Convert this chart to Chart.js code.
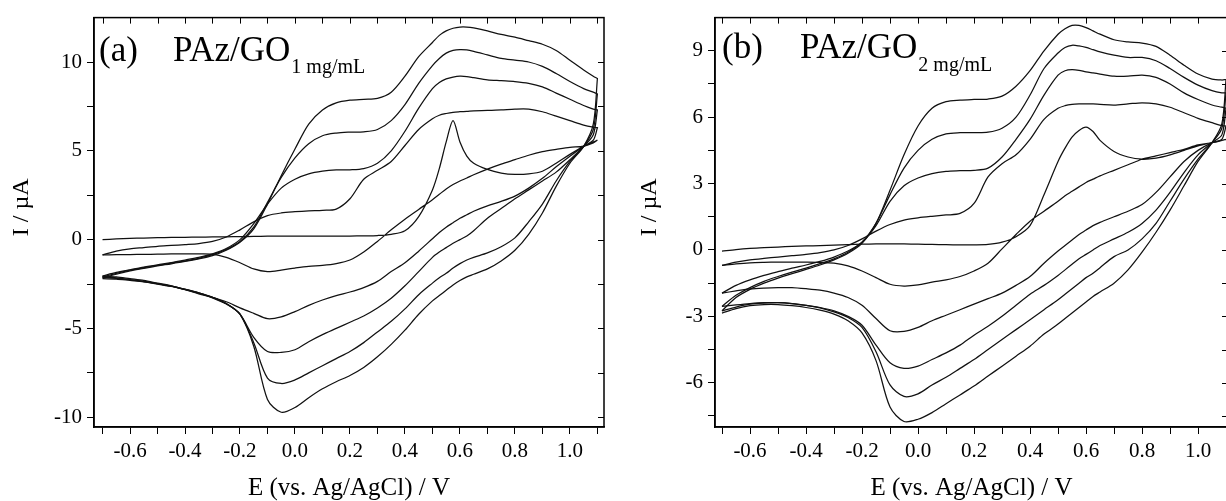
<!DOCTYPE html>
<html>
<head>
<meta charset="utf-8">
<script src="https://cdn.jsdelivr.net/npm/chart.js@4.4.1/dist/chart.umd.min.js"></script>
<style>
  html, body { margin: 0; padding: 0; background: #fff; overflow: hidden; width: 1226px; height: 501px; }
  #wa { position: absolute; left: 0; top: 0; }
  #wb { position: absolute; left: 612px; top: 0; }
</style>
</head>
<body>
<div id="wa"><canvas id="ca" width="612" height="501"></canvas></div>
<div id="wb"><canvas id="cb" width="620" height="501"></canvas></div>
<script>
// potential grid (V) shared by every branch; reverse branches are listed in the same ascending order
const potentialGrid = [-0.7, -0.65, -0.6, -0.55, -0.5, -0.45, -0.4, -0.35, -0.3, -0.25,
  -0.2, -0.15, -0.1, -0.05, 0, 0.05, 0.1, 0.15, 0.2, 0.25,
  0.3, 0.35, 0.4, 0.45, 0.5, 0.525, 0.55, 0.575, 0.6, 0.625,
  0.65, 0.7, 0.75, 0.8, 0.85, 0.9, 0.95, 1.0, 1.05, 1.085, 1.1];

// ---- (a) PAz/GO 1 mg/mL, current in uA ----
const a1Fwd = [0.00, 0.04, 0.07, 0.09, 0.11, 0.12, 0.13, 0.14, 0.15, 0.16,
  0.17, 0.18, 0.19, 0.20, 0.20, 0.20, 0.20, 0.20, 0.20, 0.21,
  0.23, 0.30, 0.50, 1.30, 2.80, 4.00, 5.50, 6.70, 5.50, 4.70,
  4.30, 3.95, 3.75, 3.67, 3.70, 3.85, 4.30, 4.80, 5.25, 5.50, 5.60];
const a1Rev = [-0.86, -0.85, -0.84, -0.83, -0.82, -0.80, -0.80, -0.80, -0.82, -1.00,
  -1.30, -1.65, -1.80, -1.72, -1.60, -1.50, -1.45, -1.35, -1.15, -0.70,
  -0.10, 0.55, 1.15, 1.70, 2.25, 2.55, 2.85, 3.10, 3.30, 3.47,
  3.65, 3.97, 4.25, 4.50, 4.75, 4.95, 5.08, 5.20, 5.27, 5.45, 5.60];
const a2Fwd = [-0.86, -0.65, -0.52, -0.45, -0.38, -0.33, -0.28, -0.22, -0.10, 0.15,
  0.55, 1.00, 1.35, 1.50, 1.57, 1.62, 1.65, 1.72, 2.30, 3.40,
  3.90, 4.40, 5.30, 6.20, 6.80, 7.00, 7.10, 7.17, 7.20, 7.22,
  7.25, 7.27, 7.30, 7.35, 7.35, 7.20, 6.95, 6.70, 6.45, 6.33, 6.30];
const a2Rev = [-2.05, -2.10, -2.20, -2.30, -2.45, -2.60, -2.80, -3.05, -3.25, -3.50,
  -3.84, -4.15, -4.45, -4.35, -4.05, -3.70, -3.40, -3.15, -2.95, -2.70,
  -2.35, -1.80, -1.30, -0.65, 0.05, 0.40, 0.70, 0.95, 1.20, 1.40,
  1.60, 1.90, 2.15, 2.45, 2.90, 3.45, 4.10, 4.70, 5.25, 5.60, 6.30];
const a3Fwd = [-2.05, -1.85, -1.70, -1.55, -1.42, -1.30, -1.15, -1.00, -0.80, -0.50,
  0.00, 0.90, 2.00, 2.90, 3.40, 3.70, 3.85, 3.92, 3.93, 4.00,
  4.30, 5.00, 6.10, 7.40, 8.50, 8.85, 9.05, 9.15, 9.20, 9.18,
  9.12, 9.00, 8.95, 8.90, 8.80, 8.60, 8.25, 7.90, 7.55, 7.35, 7.30];
const a3Rev = [-2.10, -2.15, -2.25, -2.35, -2.48, -2.62, -2.80, -3.00, -3.25, -3.60,
  -4.20, -5.50, -6.30, -6.35, -6.20, -5.75, -5.35, -5.00, -4.65, -4.30,
  -3.85, -3.30, -2.60, -1.80, -1.00, -0.70, -0.45, -0.20, 0.00, 0.20,
  0.50, 1.20, 1.75, 2.30, 2.80, 3.30, 3.80, 4.50, 5.25, 5.90, 7.30];
const a4Fwd = [-2.10, -1.90, -1.72, -1.58, -1.45, -1.33, -1.20, -1.05, -0.85, -0.55,
  -0.10, 0.70, 2.10, 3.50, 4.60, 5.40, 5.85, 6.00, 6.05, 6.07,
  6.20, 6.70, 7.60, 8.80, 9.80, 10.20, 10.50, 10.65, 10.70, 10.68,
  10.60, 10.40, 10.20, 10.10, 10.00, 9.75, 9.35, 8.90, 8.50, 8.30, 8.20];
const a4Rev = [-2.12, -2.18, -2.27, -2.36, -2.48, -2.62, -2.80, -3.00, -3.25, -3.60,
  -4.20, -5.80, -7.80, -8.10, -7.90, -7.50, -7.10, -6.70, -6.30, -5.80,
  -5.20, -4.60, -3.90, -3.10, -2.45, -2.15, -1.90, -1.60, -1.35, -1.15,
  -1.00, -0.75, -0.40, 0.10, 1.00, 2.00, 3.30, 4.40, 5.25, 6.20, 8.20];
const a5Fwd = [-2.15, -1.95, -1.76, -1.62, -1.48, -1.36, -1.23, -1.08, -0.90, -0.60,
  -0.15, 0.60, 2.00, 3.60, 5.10, 6.50, 7.30, 7.70, 7.85, 7.90,
  7.95, 8.30, 9.20, 10.30, 11.10, 11.50, 11.75, 11.90, 11.97, 11.97,
  11.92, 11.75, 11.55, 11.40, 11.20, 11.00, 10.65, 10.10, 9.55, 9.20, 9.07];
const a5Rev = [-2.20, -2.22, -2.30, -2.38, -2.50, -2.64, -2.82, -3.02, -3.28, -3.62,
  -4.20, -6.00, -9.00, -9.72, -9.45, -8.90, -8.40, -8.00, -7.65, -7.20,
  -6.60, -5.90, -5.10, -4.20, -3.45, -3.15, -2.85, -2.55, -2.30, -2.10,
  -1.95, -1.65, -1.20, -0.60, 0.30, 1.50, 3.00, 4.30, 5.25, 6.50, 9.07];

// ---- (b) PAz/GO 2 mg/mL ----
const b1Fwd = [-0.05, 0.02, 0.07, 0.10, 0.13, 0.16, 0.18, 0.20, 0.22, 0.24,
  0.26, 0.27, 0.27, 0.27, 0.26, 0.25, 0.24, 0.23, 0.23, 0.25,
  0.35, 0.60, 1.10, 2.50, 4.00, 4.60, 5.10, 5.40, 5.55, 5.35,
  4.95, 4.45, 4.20, 4.10, 4.15, 4.30, 4.50, 4.70, 4.85, 4.95, 5.00];
const b1Rev = [-0.70, -0.63, -0.58, -0.56, -0.55, -0.55, -0.55, -0.56, -0.60, -0.72,
  -0.95, -1.25, -1.55, -1.63, -1.58, -1.45, -1.35, -1.20, -0.95, -0.60,
  0.05, 0.70, 1.30, 1.75, 2.20, 2.45, 2.65, 2.85, 3.05, 3.20,
  3.35, 3.60, 3.85, 4.10, 4.25, 4.40, 4.55, 4.75, 4.85, 4.95, 5.00];
const b2Fwd = [-0.70, -0.55, -0.45, -0.38, -0.32, -0.26, -0.20, -0.12, 0.00, 0.20,
  0.50, 0.85, 1.15, 1.35, 1.45, 1.52, 1.58, 1.65, 2.10, 3.30,
  3.90, 4.30, 5.00, 5.90, 6.40, 6.52, 6.58, 6.60, 6.60, 6.60,
  6.58, 6.55, 6.60, 6.65, 6.60, 6.45, 6.20, 5.95, 5.75, 5.62, 5.60];
const b2Rev = [-1.95, -1.85, -1.76, -1.72, -1.70, -1.70, -1.75, -1.82, -1.95, -2.15,
  -2.50, -3.10, -3.65, -3.68, -3.50, -3.20, -2.95, -2.70, -2.45, -2.20,
  -1.95, -1.60, -1.20, -0.60, -0.05, 0.20, 0.45, 0.70, 0.90, 1.10,
  1.25, 1.50, 1.75, 2.05, 2.60, 3.30, 4.00, 4.50, 4.85, 5.00, 5.60];
const b3Fwd = [-1.95, -1.60, -1.35, -1.15, -0.98, -0.82, -0.68, -0.52, -0.32, -0.05,
  0.35, 1.10, 2.20, 2.90, 3.25, 3.45, 3.55, 3.58, 3.60, 3.70,
  4.20, 5.00, 5.90, 7.00, 7.90, 8.10, 8.15, 8.12, 8.05, 8.00,
  7.95, 7.85, 7.85, 7.90, 7.80, 7.50, 7.10, 6.80, 6.55, 6.45, 6.40];
const b3Rev = [-2.55, -2.48, -2.42, -2.38, -2.38, -2.42, -2.50, -2.60, -2.75, -3.00,
  -3.40, -4.30, -5.10, -5.35, -5.25, -4.95, -4.65, -4.30, -3.85, -3.45,
  -3.00, -2.50, -2.00, -1.60, -1.15, -0.90, -0.65, -0.40, -0.20, 0.00,
  0.20, 0.50, 0.80, 1.20, 1.80, 2.60, 3.50, 4.30, 4.85, 5.20, 6.40];
const b4Fwd = [-2.55, -2.05, -1.70, -1.42, -1.20, -1.00, -0.82, -0.62, -0.40, -0.10,
  0.35, 1.20, 2.50, 3.70, 4.50, 5.00, 5.25, 5.30, 5.30, 5.32,
  5.50, 6.00, 7.00, 8.20, 8.90, 9.15, 9.25, 9.22, 9.15, 9.05,
  8.95, 8.80, 8.70, 8.70, 8.55, 8.20, 7.80, 7.45, 7.20, 7.10, 7.10];
const b4Rev = [-2.75, -2.58, -2.45, -2.40, -2.38, -2.42, -2.50, -2.62, -2.80, -3.05,
  -3.50, -4.60, -6.10, -6.62, -6.50, -6.10, -5.75, -5.35, -4.95, -4.50,
  -4.05, -3.60, -3.15, -2.70, -2.25, -2.00, -1.75, -1.50, -1.25, -1.05,
  -0.80, -0.30, 0.00, 0.50, 1.20, 2.20, 3.20, 4.10, 4.85, 5.50, 7.10];
const b5Fwd = [-2.75, -2.15, -1.78, -1.50, -1.27, -1.07, -0.88, -0.68, -0.45, -0.15,
  0.30, 1.20, 2.70, 4.30, 5.60, 6.40, 6.70, 6.77, 6.80, 6.82,
  6.95, 7.40, 8.10, 9.00, 9.75, 10.00, 10.15, 10.15, 10.05, 9.90,
  9.75, 9.50, 9.40, 9.35, 9.20, 8.80, 8.35, 7.95, 7.72, 7.68, 7.70];
const b5Rev = [-2.85, -2.65, -2.52, -2.47, -2.47, -2.52, -2.60, -2.72, -2.90, -3.20,
  -3.75, -5.00, -7.10, -7.75, -7.65, -7.35, -6.95, -6.55, -6.15, -5.70,
  -5.25, -4.80, -4.35, -3.80, -3.35, -3.10, -2.85, -2.60, -2.35, -2.10,
  -1.90, -1.50, -0.90, -0.10, 0.80, 1.80, 2.90, 4.00, 4.85, 5.70, 7.70];

// tick values
const potentialTicks = [-0.7, -0.6, -0.5, -0.4, -0.3, -0.2, -0.1, 0, 0.1, 0.2, 0.3, 0.4, 0.5, 0.6, 0.7, 0.8, 0.9, 1.0, 1.1];
const currentTicksA = [-10, -7.5, -5, -2.5, 0, 2.5, 5, 7.5, 10];
const currentTicksB = [-7.5, -6, -4.5, -3, -1.5, 0, 1.5, 3, 4.5, 6, 7.5, 9];

const serif = '"Liberation Serif", "Times New Roman", serif';

// one closed CV loop: forward sweep, then the reverse sweep back to -0.7 V
function cycle(fwd, rev) {
  const out = potentialGrid.map((e, i) => ({ x: e, y: fwd[i] }));
  const back = potentialGrid.map((e, i) => ({ x: e, y: rev[i] })).reverse();
  return {
    data: out.concat(back),
    showLine: true,
    borderColor: '#111',
    borderWidth: 1.25,
    pointRadius: 0,
    tension: 0.3,
    fill: false,
  };
}

// frame, inward ticks on top/right, panel caption
const framePlugin = {
  id: 'frame',
  afterDraw(chart, args, opts) {
    const { ctx, chartArea: a, scales: { x, y } } = chart;
    ctx.save();
    ctx.strokeStyle = '#000';
    ctx.lineWidth = 1.5;
    ctx.strokeRect(a.left, a.top, a.right - a.left, a.bottom - a.top);
    ctx.lineWidth = 1;
    ctx.beginPath();
    x.ticks.forEach(t => {
      const px = Math.round(x.getPixelForValue(t.value)) + 0.5;
      ctx.moveTo(px, a.top); ctx.lineTo(px, a.top + 6);
    });
    y.ticks.forEach(t => {
      const py = Math.round(y.getPixelForValue(t.value)) + 0.5;
      ctx.moveTo(a.right, py); ctx.lineTo(a.right - 6, py);
    });
    ctx.stroke();

    // caption
    ctx.fillStyle = '#000';
    ctx.textBaseline = 'alphabetic';
    ctx.font = '35px ' + serif;
    ctx.fillText(opts.tag, a.left + opts.tagDx, a.top + opts.baseDy);
    ctx.fillText('PAz/GO', a.left + opts.nameDx, a.top + opts.baseDy);
    const w = ctx.measureText('PAz/GO').width;
    ctx.font = '20px ' + serif;
    ctx.fillText(opts.sub, a.left + opts.nameDx + w + 1, a.top + opts.baseDy + opts.subDy);
    ctx.restore();
  }
};

function makeChart(canvasId, datasets, yMin, yMax, yTicks, yMajor, xMin, xMax, yWidth, pad, caption, yTitlePad) {
  return new Chart(document.getElementById(canvasId), {
    type: 'scatter',
    data: { datasets },
    options: {
      responsive: false,
      animation: false,
      layout: { padding: pad },
      plugins: { legend: { display: false }, tooltip: { enabled: false }, frame: caption },
      scales: {
        x: {
          type: 'linear', min: xMin, max: xMax,
          afterBuildTicks: s => { s.ticks = potentialTicks.map(v => ({ value: v })); },
          afterFit: s => { s.height = 74; },
          ticks: {
            autoSkip: false, maxRotation: 0, padding: 5, color: '#000',
            font: { family: serif, size: 21 },
            callback: v => (Math.abs(Math.round(v * 10)) % 2 === 0 ? v.toFixed(1) : '')
          },
          grid: { drawOnChartArea: false, drawTicks: true, tickLength: 7, color: '#000', tickWidth: 1 },
          border: { display: true, color: '#000', width: 1.5 },
          title: { display: true, text: 'E (vs. Ag/AgCl) / V', color: '#000', font: { family: serif, size: 25, lineHeight: 1 }, padding: { top: 0, bottom: 0 } }
        },
        y: {
          type: 'linear', min: yMin, max: yMax,
          afterBuildTicks: s => { s.ticks = yTicks.map(v => ({ value: v })); },
          afterFit: s => { s.width = yWidth; },
          ticks: {
            autoSkip: false, padding: 5, color: '#000',
            font: { family: serif, size: 21 },
            callback: v => (v % yMajor === 0 ? String(v) : '')
          },
          grid: { drawOnChartArea: false, drawTicks: true, tickLength: 7, color: '#000', tickWidth: 1 },
          border: { display: true, color: '#000', width: 1.5 },
          // leading spaces lift the rotated title a little above the axis centre, as in the source
          title: { display: true, text: '     I / \u00b5A', color: '#000', font: { family: serif, size: 24, lineHeight: 1 }, padding: { top: yTitlePad, bottom: 0 } }
        }
      }
    },
    plugins: [framePlugin]
  });
}

makeChart('ca',
  [cycle(a1Fwd, a1Rev), cycle(a2Fwd, a2Rev), cycle(a3Fwd, a3Rev), cycle(a4Fwd, a4Rev), cycle(a5Fwd, a5Rev)],
  -10.55, 12.5, currentTicksA, 5, -0.731, 1.124, 94, { top: 17, right: 8, left: 0, bottom: 0 },
  { tag: '(a)', sub: '1 mg/mL', tagDx: 5, nameDx: 79, baseDy: 43, subDy: 12 }, 10);

makeChart('cb',
  [cycle(b1Fwd, b1Rev), cycle(b2Fwd, b2Rev), cycle(b3Fwd, b3Rev), cycle(b4Fwd, b4Rev), cycle(b5Fwd, b5Rev)],
  -8.0, 10.5, currentTicksB, 3, -0.725, 1.107, 103, { top: 10, right: 4, left: 0, bottom: 0 },
  { tag: '(b)', sub: '2 mg/mL', tagDx: 7, nameDx: 85, baseDy: 40, subDy: 13 }, 26);
</script>
</body>
</html>
